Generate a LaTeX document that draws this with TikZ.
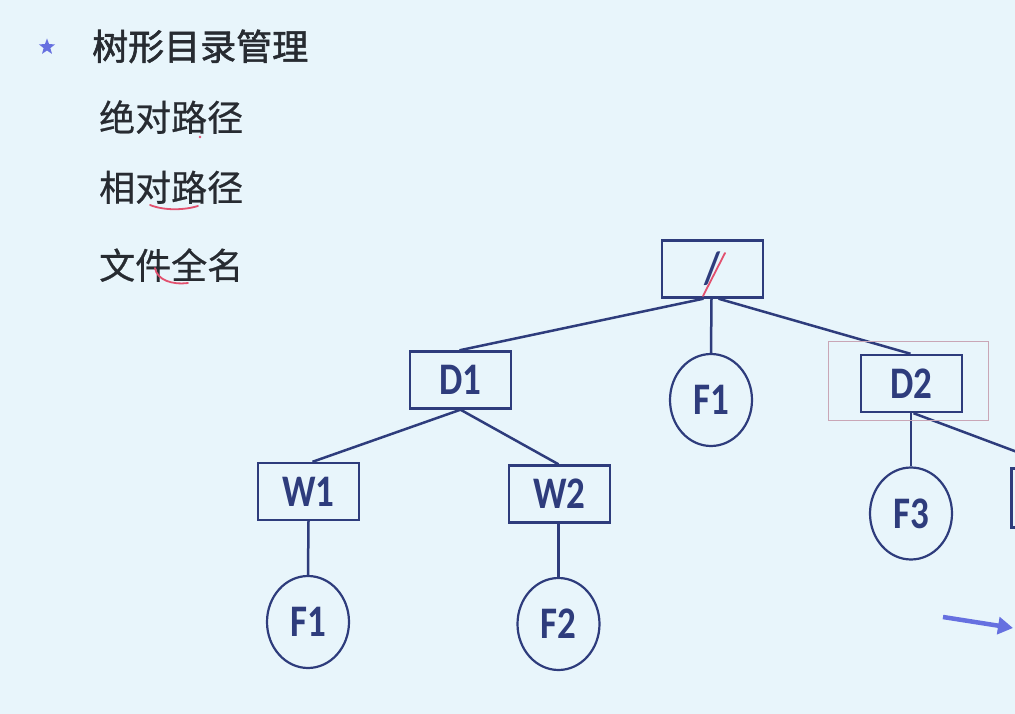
\documentclass[tikz,border=0pt]{standalone}
\usepackage{fontspec}
\setmainfont{Carlito}
\newfontfamily\cjkfont[FakeBold=0.6]{Noto Sans CJK SC}
\newfontfamily\cjkhead[FakeBold=1.6]{Noto Sans CJK SC}
\newfontfamily\labfont{Carlito}
\usetikzlibrary{arrows.meta,shapes.geometric}
\definecolor{bgc}{HTML}{E8F5FB}
\definecolor{navy}{HTML}{2E3C7C}
\definecolor{txtc}{HTML}{272B31}
\definecolor{annc}{HTML}{E2506E}
\definecolor{starc}{HTML}{6670E0}
\definecolor{pinkbox}{HTML}{C9A6B6}
\newcommand{\tlab}[1]{\scalebox{1}[1.22]{#1}}
\begin{document}
\begin{tikzpicture}[x=1pt,y=-1pt,
  dirbox/.style={draw=navy, line width=2.4pt, minimum width=101pt, minimum height=57pt,
    inner sep=0pt, text=navy, font=\labfont\bfseries\fontsize{37}{40}\selectfont},
  filenode/.style={ellipse, draw=navy, line width=2.2pt, minimum width=82pt, minimum height=92pt,
    inner sep=0pt, text=navy, font=\labfont\bfseries\fontsize{37}{40}\selectfont},
  link/.style={draw=navy, line width=2.5pt},
  cjkline/.style={anchor=base west, inner sep=0pt, text=txtc, font=\cjkfont\fontsize{36}{40}\selectfont},
  annmark/.style={draw=annc, line width=1.8pt, line cap=round}]
\useasboundingbox (0,0) rectangle (1015,714);
\fill[bgc] (0,0) rectangle (1015,714);
\clip (0,0) rectangle (1015,714);

% text list
\node[star, star points=5, star point ratio=2.4, fill=starc, minimum size=17pt, inner sep=0pt] (st) at (47,47) {};
\node[cjkline, font=\cjkhead\fontsize{36}{40}\selectfont] (t0) at (92,60) {树形目录管理};
\node[cjkline] (t1) at (99,131) {绝对路径};
\node[cjkline] (t2) at (99,201) {相对路径};
\node[cjkline] (t3) at (99,279) {文件全名};

% tree nodes
\node[dirbox] (root) at (712.5,269) {\tlab{/}};
\node[dirbox] (d1) at (460.5,380) {\tlab{D1}};
\node[filenode] (f1) at (711,400) {\tlab{F1}};
\node[dirbox] (d2) at (911.5,383.5) {\tlab{D2}};
\node[dirbox] (w1) at (308.5,491.5) {\tlab{W1}};
\node[dirbox] (w2) at (559.5,494) {\tlab{W2}};
\node[filenode] (f3) at (911,513.5) {\tlab{F3}};
\node[dirbox, minimum height=59pt] (e) at (1062,498) {};
\node[filenode] (fa) at (308,622) {\tlab{F1}};
\node[filenode] (f2) at (558.5,624) {\tlab{F2}};

% connectors
\draw[link] ([xshift=-9pt]root.south) -- ([xshift=-1pt]d1.north);
\draw[link] ([xshift=-1pt]root.south) -- (f1.north);
\draw[link] ([xshift=6pt]root.south) -- ([xshift=-1pt]d2.north);
\draw[link] (d1.south) -- ([xshift=4pt]w1.north);
\draw[link] (d1.south) -- ([xshift=-1pt]w2.north);
\draw[link] (w1.south) -- (fa.north);
\draw[link] ([xshift=-1pt]w2.south) -- (f2.north);
\draw[link] ([xshift=-0.5pt]d2.south) -- (f3.north);
\draw[link] ([xshift=2pt]d2.south) -- ([xshift=-4pt]e.north);

% arrow
\coordinate (a0) at (943,617);
\coordinate (a1) at (1013,628);
\draw[starc, line width=4.5pt, -{Triangle[length=15pt,width=17pt]}] (a0) -- (a1);

% annotations
\draw[draw=pinkbox, line width=1pt] (828,341) rectangle (988,420);
\draw[annmark] (703,296) -- (725,253);
\fill[annc] (200,137) circle (1.4pt);
\draw[annmark] (150,205) .. controls (165,211) and (185,210) .. (198,206);
\draw[annmark] (155,268) .. controls (157,280) and (172,285) .. (188,283);
\end{tikzpicture}
\end{document}
